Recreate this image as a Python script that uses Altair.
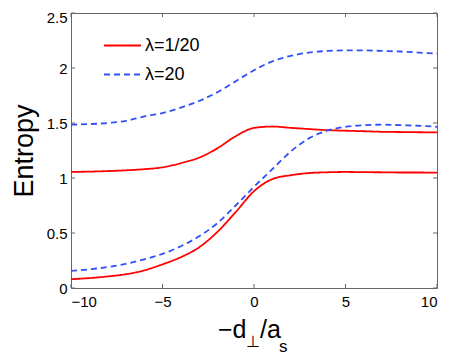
import altair as alt
import pandas as pd

# ---- data ----
x_vals = list(range(-10, 11))
red_upper = [1.055, 1.058, 1.063, 1.07, 1.08, 1.097, 1.135, 1.185, 1.27, 1.38, 1.455,
             1.468, 1.456, 1.445, 1.435, 1.43, 1.425, 1.42, 1.418, 1.416, 1.415]
red_lower = [0.08, 0.09, 0.105, 0.125, 0.16, 0.215, 0.28, 0.37, 0.51, 0.69, 0.88,
             0.99, 1.025, 1.045, 1.052, 1.055, 1.053, 1.052, 1.05, 1.05, 1.048]
blue_upper = [1.485, 1.49, 1.50, 1.52, 1.56, 1.59, 1.64, 1.70, 1.78, 1.88, 1.98,
              2.06, 2.11, 2.14, 2.155, 2.16, 2.16, 2.155, 2.15, 2.14, 2.13]
blue_lower = [0.155, 0.17, 0.19, 0.22, 0.26, 0.31, 0.38, 0.47, 0.59, 0.75, 0.92,
              1.08, 1.24, 1.36, 1.43, 1.465, 1.48, 1.485, 1.48, 1.475, 1.465]
series_names = ["λ=1/20", "λ=20"]
series_colors = ["#ff0000", "#3050f8"]
x_ticks = [-10, -5, 0, 5, 10]
y_ticks = [0, 0.5, 1, 1.5, 2, 2.5]

rows = []
for name, curve, ys in [
    (series_names[0], "a", red_upper),
    (series_names[0], "b", red_lower),
    (series_names[1], "c", blue_upper),
    (series_names[1], "d", blue_lower),
]:
    for xv, yv in zip(x_vals, ys):
        rows.append({"x": xv, "y": yv, "series": name, "curve": curve})
df = pd.DataFrame(rows)

W, H = 366, 275
FONT = "Liberation Sans"
GRAY = "#666666"

xscale = alt.Scale(domain=[-10, 10], nice=False, zero=False)
yscale = alt.Scale(domain=[0, 2.5], nice=False)

legend = alt.Legend(
    title=None, orient="none", legendX=32, legendY=13,
    symbolType="stroke", symbolSize=1369, symbolStrokeWidth=1.8,
    labelFontSize=18, labelFont=FONT, labelColor="black", labelOffset=3,
    rowPadding=0,
)

lines = alt.Chart(df).mark_line(strokeWidth=1.8, interpolate="monotone").encode(
    x=alt.X("x:Q", scale=xscale, title=None,
            axis=alt.Axis(values=x_ticks, format="d", ticks=False, domain=False,
                          grid=False, labelFontSize=15, labelFont=FONT,
                          labelColor="black", labelPadding=6)),
    y=alt.Y("y:Q", scale=yscale,
            axis=alt.Axis(values=y_ticks, labelExpr="format(datum.value, '~r')",
                          ticks=False, domain=False,
                          grid=False, labelFontSize=15, labelFont=FONT,
                          labelColor="black", labelPadding=4,
                          labelOffset=alt.ExprRef("datum.value == 2.5 ? 4 : 0"),
                          title="Entropy", titleFontSize=27, titleFont=FONT,
                          titleFontWeight="normal", titleColor="black",
                          titlePadding=8)),
    color=alt.Color("series:N", scale=alt.Scale(domain=series_names, range=series_colors),
                    legend=legend),
    strokeDash=alt.StrokeDash("series:N",
                              scale=alt.Scale(domain=series_names, range=[[1, 0], [6, 4]]),
                              legend=legend),
    detail="curve:N",
)

xt = pd.DataFrame({"v": x_ticks})
yt = pd.DataFrame({"v": y_ticks})
tick_style = dict(color=GRAY, strokeWidth=1)
ticks = [
    alt.Chart(xt).mark_rule(**tick_style).encode(x=alt.X("v:Q", scale=xscale), y=alt.value(H), y2=alt.value(H - 4)),
    alt.Chart(xt).mark_rule(**tick_style).encode(x=alt.X("v:Q", scale=xscale), y=alt.value(0), y2=alt.value(4)),
    alt.Chart(yt).mark_rule(**tick_style).encode(y=alt.Y("v:Q", scale=yscale), x=alt.value(0), x2=alt.value(4)),
    alt.Chart(yt).mark_rule(**tick_style).encode(y=alt.Y("v:Q", scale=yscale), x=alt.value(W), x2=alt.value(W - 4)),
]

# x-axis title: −d⊥/a_s with subscripts
def txt(s, x, y, size, align="left"):
    return alt.Chart(pd.DataFrame({"t": [s]})).mark_text(
        font=FONT, fontSize=size, align=align, baseline="alphabetic", color="black"
    ).encode(x=alt.value(x), y=alt.value(y), text="t:N")

xtitle = [
    txt("−d", 147, 325, 25),
    txt("⊥", 182, 334, 16, align="center"),
    txt("/a", 189, 325, 25),
    txt("s", 208, 339, 17),
]

chart = alt.layer(*ticks, lines, *xtitle).properties(
    width=W, height=H,
    autosize=alt.AutoSizeParams(type="none"),
    padding={"left": 63, "top": 5, "right": 5, "bottom": 70},
).configure_view(stroke=GRAY, strokeWidth=1)

chart.save("out.html", embed_options={"renderer": "svg", "actions": False})
